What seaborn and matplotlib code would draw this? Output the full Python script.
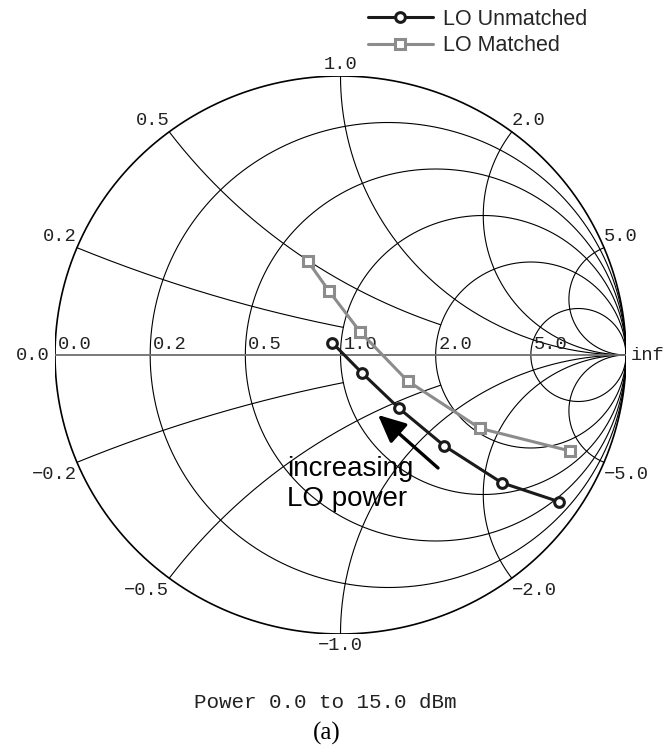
import numpy as np
import pandas as pd
import matplotlib
matplotlib.use("Agg")
import matplotlib.pyplot as plt
from matplotlib.lines import Line2D
import seaborn as sns

# ---------------- data (reflection coefficient, real / imag) ----------------
series_names = ["LO Unmatched", "LO Matched"]
gamma_re_unmatched = [-0.029, 0.074, 0.205, 0.364, 0.565, 0.766]
gamma_im_unmatched = [0.044, -0.063, -0.191, -0.326, -0.458, -0.526]
gamma_re_matched = [-0.115, -0.040, 0.068, 0.235, 0.489, 0.804]
gamma_im_matched = [0.337, 0.229, 0.084, -0.093, -0.263, -0.344]

resistance_values = [0.2, 0.5, 1.0, 2.0, 5.0]
reactance_values = [0.2, 0.5, 1.0, 2.0, 5.0]
reactance_rmax = [1.0, 2.0, np.inf, np.inf, np.inf]
resistance_labels = ["0.0", "0.2", "0.5", "1.0", "2.0", "5.0"]
reactance_labels_pos = ["0.2", "0.5", "1.0", "2.0", "5.0"]
reactance_labels_neg = ["\u22120.2", "\u22120.5", "\u22121.0", "\u22122.0", "\u22125.0"]

sns.set_style("white")
plt.rcParams["font.family"] = ["Liberation Sans", "DejaVu Sans"]
MONO = ["Liberation Mono", "DejaVu Sans Mono"]

fig = plt.figure(figsize=(6.71, 7.5), dpi=100)
ax = fig.add_axes([55 / 671, 1 - 634 / 750, 571 / 671, 558 / 750])
ax.set_xlim(-1, 1)
ax.set_ylim(-1, 1)
ax.axis("off")

grid_kw = dict(color="black", lw=0.8, zorder=1)
theta = np.linspace(0, 2 * np.pi, 1441)

# outer boundary
ax.plot(np.cos(theta), np.sin(theta), color="black", lw=1.2, zorder=1)
# resistance circles
for r in resistance_values:
    c, rad = r / (1 + r), 1 / (1 + r)
    ax.plot(c + rad * np.cos(theta), rad * np.sin(theta), **grid_kw)
# reactance arcs
rr_all = np.concatenate([np.linspace(0, 1, 300), np.geomspace(1, 1e6, 800)[1:]])
for xv, rmax in zip(reactance_values, reactance_rmax):
    rr = rr_all[rr_all <= rmax]
    for s in (1, -1):
        z = rr + 1j * s * xv
        g = (z - 1) / (z + 1)
        ax.plot(g.real, g.imag, **grid_kw)
# real axis
ax.plot([-1, 1], [0, 0], color="#707070", lw=1.3, zorder=1)

# ---------------- labels ----------------
lab_kw = dict(family=MONO, fontsize=13.5, color="#222222")
ax.text(-1.02, 0.0, "0.0", ha="right", va="center", **lab_kw)
res_pos = [-1.0] + [(r - 1) / (r + 1) for r in resistance_values]
for gx, t in zip(res_pos, resistance_labels):
    ax.text(gx + 0.01, 0.006, t, ha="left", va="bottom", **lab_kw)
ax.text(1.015, 0.0, "inf", ha="left", va="center", **lab_kw)

for xv, tp, tn in zip(reactance_values, reactance_labels_pos, reactance_labels_neg):
    g = (1j * xv - 1) / (1j * xv + 1)
    if abs(g.real) < 0.05:
        ha = "center"
    elif g.real < 0:
        ha = "right"
    else:
        ha = "left"
    ax.text(g.real, g.imag + 0.01, tp, ha=ha, va="bottom", **lab_kw)
    ax.text(g.real, -g.imag - 0.012, tn, ha=ha, va="top", **lab_kw)

# ---------------- data ----------------
df_u = pd.DataFrame({"re": gamma_re_unmatched, "im": gamma_im_unmatched})
df_m = pd.DataFrame({"re": gamma_re_matched, "im": gamma_im_matched})
sns.lineplot(data=df_m, x="re", y="im", sort=False, ax=ax, color="#8c8c8c",
             lw=2.2, marker="s", markersize=6.5, markerfacecolor="white",
             markeredgecolor="#8c8c8c", markeredgewidth=2.2, zorder=4)
sns.lineplot(data=df_u, x="re", y="im", sort=False, ax=ax, color="#1a1a1a",
             lw=2.2, marker="o", markersize=7, markerfacecolor="white",
             markeredgecolor="#1a1a1a", markeredgewidth=2.2, zorder=5)
ax.set_xlim(-1, 1)
ax.set_ylim(-1, 1)

# arrow + annotation
ax.annotate("", xy=(0.5657, 0.3925), xytext=(0.6708, 0.2975),
            xycoords="axes fraction", textcoords="axes fraction",
            arrowprops=dict(arrowstyle="-|>,head_length=0.6,head_width=0.28",
                            lw=2.4, color="black",
                            mutation_scale=28, shrinkA=0, shrinkB=0))
ax.text(0.4063, 0.2832, "increasing", transform=ax.transAxes, ha="left",
        va="baseline", fontsize=20, color="black")
ax.text(0.4063, 0.2290, "LO power", transform=ax.transAxes, ha="left",
        va="baseline", fontsize=20, color="black")

# legend
handles = [
    Line2D([], [], color="#1a1a1a", lw=2.2, marker="o", markersize=7,
           markerfacecolor="white", markeredgecolor="#1a1a1a", markeredgewidth=2.2),
    Line2D([], [], color="#8c8c8c", lw=2.2, marker="s", markersize=6.5,
           markerfacecolor="white", markeredgecolor="#8c8c8c", markeredgewidth=2.2),
]
fig.legend(handles, series_names, loc="upper left",
           bbox_to_anchor=(368 / 671, 1 - 9 / 750), frameon=False,
           borderpad=0, borderaxespad=0, handlelength=3.0, handletextpad=0.5,
           labelspacing=0.25, fontsize=15.5, numpoints=1)

# bottom texts
fig.text(325 / 671, 1 - 703 / 750, "Power 0.0 to 15.0 dBm", ha="center",
         va="center", family=MONO, fontsize=15, color="#222222")
fig.text(327 / 671, 1 - 733 / 750, "(a)", ha="center", va="center",
         family=["Liberation Serif", "DejaVu Serif"], fontsize=18, color="black")

fig.savefig("out.png", dpi=100)
